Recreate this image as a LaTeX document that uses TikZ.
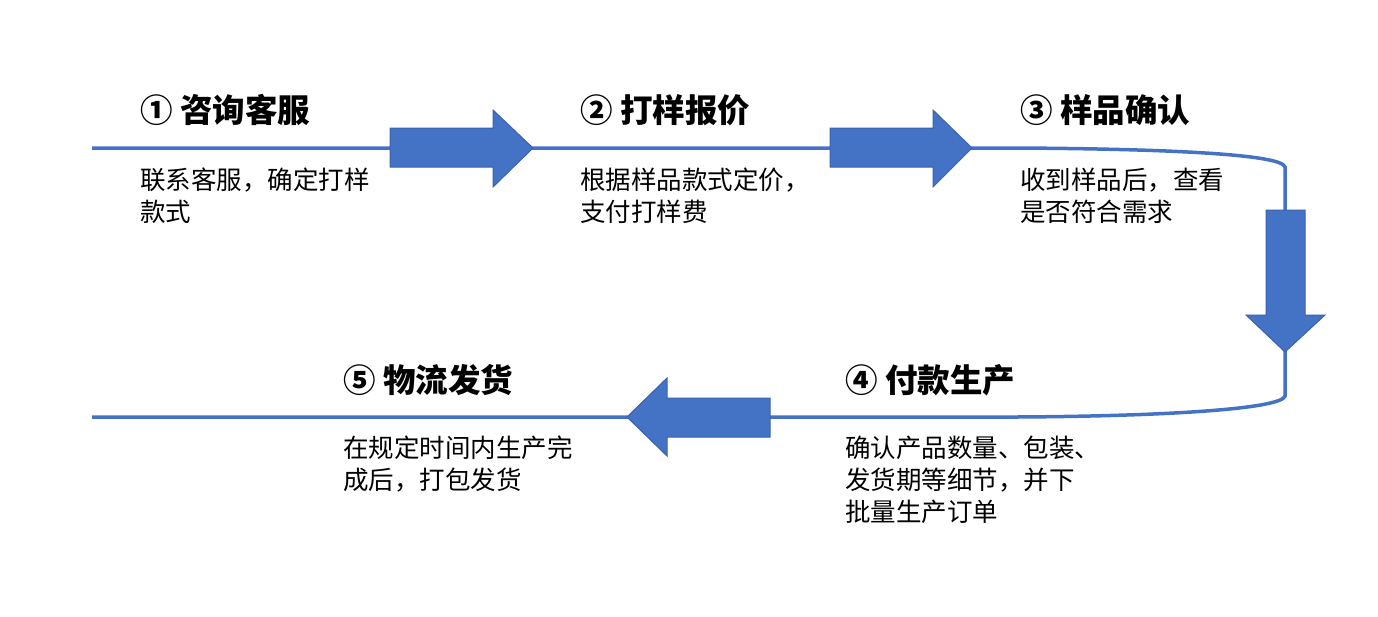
\documentclass[tikz,border=0pt]{standalone}
\usepackage{fontspec}
\newfontfamily\cjk{Noto Sans CJK SC}
\definecolor{flowblue}{HTML}{4472C4}
\definecolor{edgeblue}{HTML}{3A62AE}
\begin{document}
\begin{tikzpicture}[x=1pt,y=-1pt,
  flowline/.style={draw=flowblue,line width=3.5pt},
  bigarrow/.style={fill=flowblue,draw=edgeblue,line width=1pt,line join=miter},
  titletext/.style={anchor=west,inner sep=0pt,font=\cjk\bfseries\fontsize{32.5}{36}\selectfont},
  bodytext/.style={anchor=north west,inner sep=0pt,align=left,font=\cjk\fontsize{25.5}{32}\selectfont}]
\useasboundingbox (0,0) rectangle (1378,616);
% main line
\coordinate (tl) at (92,148);
\coordinate (tr) at (1017,148);
\coordinate (bl) at (92,417);
\coordinate (br) at (1017,417);
\draw[flowline,line cap=butt] (tl) -- (tr) .. controls (1180,149) and (1282,155) .. (1285,167) -- (1285,396) .. controls (1282,408) and (1180,416) .. (br) -- (bl);
% arrows
\draw[bigarrow] (390,128) -- (493,128) -- (493,110) -- (533,148) -- (493,187) -- (493,167) -- (390,167) -- cycle;
\draw[bigarrow] (830,128) -- (933,128) -- (933,110) -- (972,148) -- (933,187) -- (933,167) -- (830,167) -- cycle;
\draw[bigarrow] (1266,210) -- (1305,210) -- (1305,315) -- (1325,315) -- (1285,352) -- (1246,315) -- (1266,315) -- cycle;
\draw[bigarrow] (770,398) -- (667,398) -- (667,378) -- (627,417) -- (667,456) -- (667,437) -- (770,437) -- cycle;
% texts
\node[titletext] (t1) at (140,110) {① 咨询客服};
\node[bodytext] (b1) at (140,168) {联系客服，确定打样\\款式};
\node[titletext] (t2) at (580,110) {② 打样报价};
\node[bodytext] (b2) at (580,168) {根据样品款式定价，\\支付打样费};
\node[titletext] (t3) at (1020,110) {③ 样品确认};
\node[bodytext] (b3) at (1020,168) {收到样品后，查看\\是否符合需求};
\node[titletext] (t4) at (845,380) {④ 付款生产};
\node[bodytext] (b4) at (845,436) {确认产品数量、包装、\\发货期等细节，并下\\批量生产订单};
\node[titletext] (t5) at (343,380) {⑤ 物流发货};
\node[bodytext] (b5) at (343,436) {在规定时间内生产完\\成后，打包发货};
\end{tikzpicture}
\end{document}
